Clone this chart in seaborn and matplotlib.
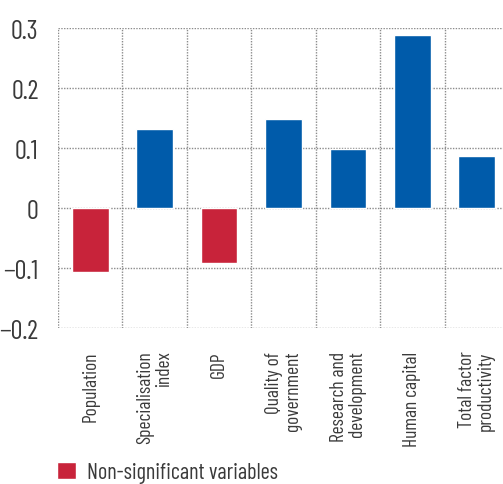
import matplotlib
matplotlib.use("Agg")
import matplotlib.pyplot as plt
import seaborn as sns
import pandas as pd
from matplotlib.patches import Patch

categories = ["Population", "Specialisation\nindex", "GDP", "Quality of\ngovernment",
              "Research and\ndevelopment", "Human capital", "Total factor\nproductivity"]
values = [-0.106, 0.132, -0.091, 0.149, 0.099, 0.289, 0.087]
significant = ["no", "yes", "no", "yes", "yes", "yes", "yes"]
y_ticks = [-0.2, -0.1, 0, 0.1, 0.2, 0.3]
y_labels = ["\u22120.2", "\u22120.1", "0", "0.1", "0.2", "0.3"]

BLUE = "#005BAA"
RED = "#C8233A"


def main():
    sns.set_style("white")
    plt.rcParams["font.family"] = ["Barlow Condensed", "Asap Condensed", "Liberation Sans", "DejaVu Sans"]

    df = pd.DataFrame({"cat": categories, "val": values, "sig": significant})

    fig = plt.figure(figsize=(5.03, 4.85), dpi=100)
    ax = fig.add_axes([0.1153, 0.321, 0.8966, 0.6186])

    sns.barplot(data=df, x="cat", y="val", hue="sig",
                palette={"yes": BLUE, "no": RED}, dodge=False,
                width=0.57, legend=False, ax=ax, saturation=1)

    ax.set_ylim(-0.2, 0.3)
    ax.set_xlim(-0.5, len(categories) - 0.5)
    ax.set_yticks(y_ticks)
    ax.set_yticklabels(y_labels, fontsize=19, color="#3a3a3a")
    ax.set_xticks(range(len(categories)))
    ax.set_xticklabels(categories, rotation=90, fontsize=14, color="#3a3a3a",
                       va="top", ha="center", multialignment="right",
                       linespacing=1.05)
    ax.tick_params(axis="both", length=0)
    ax.tick_params(axis="y", pad=14)
    ax.tick_params(axis="x", pad=16)
    ax.set_xlabel("")
    ax.set_ylabel("")

    # dotted grid, vertical lines between categories
    ax.set_xticks([i - 0.5 for i in range(len(categories) + 1)], minor=True)
    ax.grid(False)
    ax.grid(axis="y", which="major", linestyle=(0, (1, 1)), color="#8c8c8c", linewidth=1)
    ax.grid(axis="x", which="minor", linestyle=(0, (1, 1)), color="#8c8c8c", linewidth=1)
    ax.tick_params(axis="x", which="minor", length=0)
    ax.set_axisbelow(True)
    for s in ax.spines.values():
        s.set_visible(False)

    fig.legend(handles=[Patch(facecolor=RED, label="Non-significant variables")],
               loc="center left", bbox_to_anchor=(0.1133, 0.024), frameon=False,
               borderaxespad=0, borderpad=0,
               fontsize=16, handlelength=0.85, handleheight=0.85, handletextpad=0.5,
               labelcolor="#3a3a3a")

    fig.savefig("out.png", dpi=100)


if __name__ == "__main__":
    main()
